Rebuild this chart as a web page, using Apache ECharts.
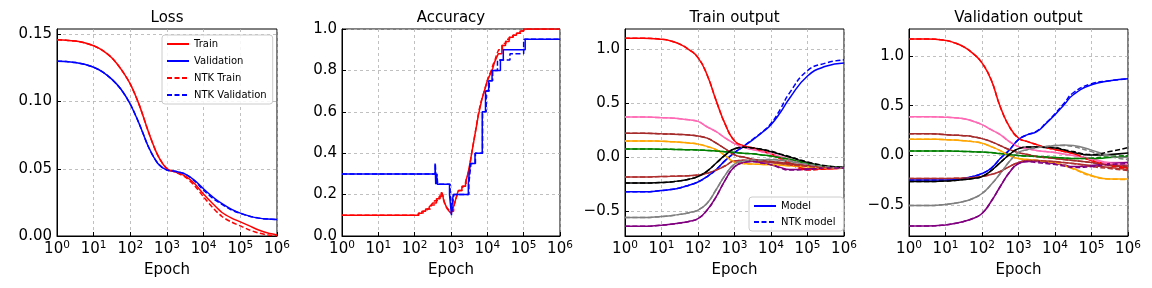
<!DOCTYPE html>
<html><head><meta charset="utf-8">
<script src="https://cdn.jsdelivr.net/npm/echarts@6/dist/echarts.min.js"></script>
<style>html,body{margin:0;padding:0;background:#fff}#c{width:1152px;height:288px}</style>
</head><body><div id="c"></div>
<script>
// ---------- DATA ----------
const LOSS_EPOCHS = [1,1.778,3.162,5.623,10,17.78,31.62,56.23,100,177.8,316.2,562.3,1000,1778,3162,5623,10000,17783,31623,56234,100000,177828,316228,562341,1000000];
const lossTrain = [0.146,0.1457,0.1450,0.1437,0.1415,0.138,0.1325,0.124,0.113,0.097,0.077,0.060,0.050,0.0475,0.0445,0.039,0.031,0.024,0.0175,0.0135,0.0105,0.0075,0.0045,0.0022,0.0008];
const lossVal = [0.130,0.1298,0.1290,0.1277,0.1255,0.122,0.1165,0.109,0.098,0.083,0.066,0.054,0.049,0.048,0.046,0.0415,0.035,0.029,0.024,0.020,0.017,0.0148,0.0133,0.0126,0.0123];
const lossNtkTrain = [0.146,0.1457,0.1450,0.1437,0.1415,0.138,0.1325,0.124,0.113,0.097,0.077,0.060,0.050,0.0472,0.0438,0.0375,0.029,0.021,0.0145,0.0105,0.0075,0.0045,0.0022,0.0008,0.0002];
const lossNtkVal = [0.130,0.1298,0.1290,0.1277,0.1255,0.122,0.1165,0.109,0.098,0.083,0.066,0.054,0.049,0.048,0.046,0.041,0.034,0.028,0.0235,0.0195,0.0168,0.0147,0.0133,0.0126,0.0123];

const ACC_TRAIN_EPOCHS = [1,126,158,200,251,282,316,398,468,537,589,631,708,794,891,1000,1122,1259,1413,1585,1995,2512,2818,3162,3548,3981,4467,5012,5623,6310,7079,7943,8913,10000,11220,12589,14125,15849,17783,19953,25119,31623,39811,50119,63096,79433,100000,1000000];
const accTrain = [0.10,0.11,0.12,0.13,0.14,0.15,0.16,0.18,0.19,0.21,0.20,0.17,0.15,0.13,0.12,0.11,0.13,0.16,0.19,0.22,0.24,0.26,0.29,0.33,0.38,0.43,0.48,0.53,0.58,0.62,0.66,0.69,0.72,0.75,0.77,0.79,0.81,0.84,0.86,0.88,0.92,0.94,0.96,0.97,0.98,0.99,1.00,1.00];
const ACC_NTK_TRAIN_EPOCHS = [1,130,170,220,270,300,350,420,500,560,610,660,740,830,930,1050,1180,1320,1480,1660,2100,2600,2950,3300,3700,4150,4650,5200,5800,6500,7300,8200,9200,10300,11500,12900,14500,16300,18300,20500,26000,32500,41000,51500,65000,82000,100000,1000000];
const accNtkTrain = [0.10,0.11,0.12,0.13,0.14,0.15,0.17,0.18,0.20,0.21,0.19,0.16,0.14,0.13,0.12,0.12,0.14,0.17,0.20,0.22,0.24,0.27,0.30,0.34,0.40,0.45,0.50,0.55,0.60,0.64,0.67,0.70,0.73,0.76,0.78,0.80,0.83,0.85,0.88,0.90,0.93,0.95,0.96,0.97,0.98,0.99,1.00,1.00];
const ACC_VAL_EPOCHS = [1,365,380,400,420,440,910,1030,1070,1150,3000,3160,3400,4580,7250,8900,10900,13500,18200,22900,27500,110000,1000000];
const accVal = [0.30,0.35,0.25,0.30,0.25,0.25,0.20,0.10,0.15,0.20,0.25,0.30,0.35,0.40,0.60,0.70,0.75,0.80,0.80,0.85,0.90,0.95,0.95];
const ACC_NTK_VAL_EPOCHS = [1,370,390,410,430,460,950,1060,1100,1200,3100,3300,3550,4700,7400,9300,11300,14000,19000,24500,42000,100000,1000000];
const accNtkVal = [0.30,0.35,0.26,0.30,0.25,0.25,0.20,0.12,0.15,0.20,0.25,0.30,0.35,0.40,0.60,0.70,0.75,0.80,0.85,0.85,0.88,0.95,0.95];

const OUT_EPOCHS = [1,3.162,10,17.78,31.62,56.23,100,177.8,316.2,562.3,1000,1778,3162,5623,10000,17783,31623,100000,316228,1000000];
const OUT_COLORS = ['#ff0000','#0000ff','#ff69b4','#a52a2a','#ffa500','#008000','#b03030','#000000','#808080','#800080'];
const trainOut = [
  [1.10,1.10,1.09,1.075,1.045,0.995,0.92,0.76,0.52,0.30,0.15,0.105,0.085,0.055,0.03,-0.01,-0.05,-0.11,-0.11,-0.10],
  [-0.32,-0.32,-0.31,-0.30,-0.285,-0.26,-0.23,-0.18,-0.115,-0.03,0.04,0.10,0.16,0.225,0.30,0.41,0.54,0.75,0.84,0.87],
  [0.37,0.37,0.365,0.362,0.355,0.345,0.33,0.28,0.235,0.175,0.125,0.09,0.07,0.05,0.03,0.005,-0.02,-0.07,-0.09,-0.10],
  [0.22,0.22,0.215,0.213,0.21,0.205,0.195,0.175,0.13,0.075,0.02,0.0,-0.02,-0.03,-0.04,-0.05,-0.06,-0.08,-0.095,-0.10],
  [0.15,0.15,0.147,0.143,0.138,0.13,0.12,0.098,0.068,0.012,-0.046,-0.06,-0.065,-0.068,-0.07,-0.075,-0.08,-0.09,-0.10,-0.10],
  [0.074,0.074,0.073,0.072,0.07,0.068,0.066,0.062,0.057,0.05,0.042,0.035,0.03,0.02,0.01,-0.005,-0.02,-0.06,-0.085,-0.10],
  [-0.185,-0.185,-0.18,-0.178,-0.175,-0.172,-0.165,-0.15,-0.12,-0.08,-0.035,-0.03,-0.035,-0.04,-0.05,-0.06,-0.07,-0.085,-0.095,-0.10],
  [-0.24,-0.24,-0.235,-0.23,-0.22,-0.205,-0.18,-0.13,-0.055,0.02,0.077,0.09,0.085,0.07,0.05,0.025,0.0,-0.05,-0.085,-0.095],
  [-0.56,-0.56,-0.55,-0.542,-0.53,-0.515,-0.49,-0.426,-0.30,-0.165,-0.065,-0.035,-0.03,-0.027,-0.025,-0.03,-0.04,-0.07,-0.09,-0.10],
  [-0.64,-0.64,-0.63,-0.622,-0.61,-0.595,-0.57,-0.49,-0.365,-0.21,-0.09,-0.05,-0.04,-0.055,-0.07,-0.095,-0.115,-0.11,-0.10,-0.10]
];
const trainOutNtk = [
  [1.10,1.10,1.09,1.075,1.045,0.995,0.92,0.76,0.52,0.30,0.15,0.105,0.085,0.055,0.03,-0.015,-0.06,-0.12,-0.11,-0.10],
  [-0.32,-0.32,-0.31,-0.30,-0.285,-0.26,-0.23,-0.18,-0.115,-0.03,0.04,0.10,0.165,0.23,0.31,0.44,0.59,0.80,0.87,0.90],
  [0.37,0.37,0.365,0.362,0.355,0.345,0.33,0.28,0.235,0.175,0.125,0.09,0.07,0.05,0.03,0.005,-0.02,-0.07,-0.09,-0.10],
  [0.22,0.22,0.215,0.213,0.21,0.205,0.195,0.175,0.13,0.075,0.02,0.0,-0.02,-0.03,-0.04,-0.05,-0.06,-0.08,-0.095,-0.10],
  [0.15,0.15,0.147,0.143,0.138,0.13,0.12,0.098,0.068,0.012,-0.046,-0.06,-0.065,-0.068,-0.07,-0.075,-0.08,-0.09,-0.10,-0.10],
  [0.074,0.074,0.073,0.072,0.07,0.068,0.066,0.062,0.057,0.05,0.042,0.035,0.03,0.02,0.01,-0.005,-0.02,-0.06,-0.085,-0.10],
  [-0.185,-0.185,-0.18,-0.178,-0.175,-0.172,-0.165,-0.15,-0.12,-0.08,-0.035,-0.03,-0.035,-0.04,-0.05,-0.06,-0.07,-0.085,-0.095,-0.10],
  [-0.24,-0.24,-0.235,-0.23,-0.22,-0.205,-0.18,-0.13,-0.055,0.02,0.077,0.09,0.085,0.072,0.055,0.03,0.005,-0.045,-0.08,-0.095],
  [-0.56,-0.56,-0.55,-0.542,-0.53,-0.515,-0.49,-0.426,-0.30,-0.165,-0.065,-0.035,-0.03,-0.025,-0.02,-0.025,-0.035,-0.065,-0.09,-0.10],
  [-0.64,-0.64,-0.63,-0.622,-0.61,-0.595,-0.57,-0.49,-0.365,-0.21,-0.09,-0.05,-0.04,-0.055,-0.07,-0.10,-0.12,-0.115,-0.10,-0.10]
];
const valOut = [
  [1.17,1.17,1.155,1.13,1.09,1.025,0.93,0.76,0.49,0.29,0.175,0.14,0.11,0.08,0.06,0.04,0.02,-0.05,-0.09,-0.125],
  [-0.245,-0.245,-0.245,-0.24,-0.23,-0.21,-0.18,-0.127,-0.03,0.057,0.16,0.21,0.24,0.32,0.41,0.51,0.61,0.71,0.75,0.77],
  [0.39,0.39,0.385,0.38,0.37,0.345,0.31,0.26,0.21,0.14,0.09,0.07,0.05,0.04,0.03,0.015,0.0,-0.03,-0.07,-0.07],
  [0.22,0.22,0.21,0.205,0.20,0.19,0.17,0.14,0.10,0.06,0.03,0.01,-0.01,-0.02,-0.03,-0.04,-0.05,-0.07,-0.09,-0.10],
  [0.165,0.165,0.16,0.156,0.15,0.14,0.125,0.09,0.05,0.0,-0.03,-0.04,-0.05,-0.06,-0.07,-0.10,-0.13,-0.20,-0.235,-0.235],
  [0.047,0.047,0.046,0.044,0.042,0.039,0.035,0.03,0.02,0.01,0.0,-0.005,-0.01,-0.015,-0.02,-0.025,-0.03,-0.03,-0.02,-0.01],
  [-0.23,-0.23,-0.23,-0.228,-0.225,-0.22,-0.21,-0.19,-0.16,-0.11,-0.07,-0.05,-0.05,-0.055,-0.06,-0.07,-0.08,-0.10,-0.12,-0.14],
  [-0.26,-0.26,-0.255,-0.25,-0.24,-0.23,-0.21,-0.15,-0.07,0.01,0.07,0.085,0.085,0.08,0.075,0.055,0.03,0.005,0.01,0.025],
  [-0.50,-0.50,-0.49,-0.478,-0.46,-0.43,-0.38,-0.29,-0.18,-0.06,0.03,0.06,0.08,0.09,0.10,0.105,0.10,0.055,0.0,-0.02],
  [-0.705,-0.705,-0.695,-0.68,-0.66,-0.63,-0.58,-0.46,-0.31,-0.17,-0.08,-0.06,-0.06,-0.07,-0.08,-0.095,-0.11,-0.10,-0.08,-0.07]
];
const valOutNtk = [
  [1.17,1.17,1.155,1.13,1.09,1.025,0.93,0.76,0.49,0.29,0.175,0.14,0.11,0.08,0.06,0.04,0.02,-0.05,-0.10,-0.13],
  [-0.245,-0.245,-0.245,-0.24,-0.23,-0.21,-0.18,-0.127,-0.03,0.057,0.16,0.21,0.245,0.325,0.42,0.525,0.63,0.72,0.75,0.77],
  [0.39,0.39,0.385,0.38,0.37,0.345,0.31,0.26,0.21,0.14,0.09,0.07,0.05,0.04,0.03,0.015,0.0,-0.04,-0.08,-0.09],
  [0.22,0.22,0.21,0.205,0.20,0.19,0.17,0.14,0.10,0.06,0.03,0.01,-0.01,-0.02,-0.03,-0.04,-0.05,-0.07,-0.10,-0.11],
  [0.165,0.165,0.16,0.156,0.15,0.14,0.125,0.09,0.05,0.0,-0.03,-0.04,-0.05,-0.06,-0.07,-0.10,-0.135,-0.205,-0.235,-0.24],
  [0.047,0.047,0.046,0.044,0.042,0.039,0.035,0.03,0.02,0.01,0.0,-0.005,-0.01,-0.015,-0.02,-0.025,-0.03,-0.025,-0.01,0.0],
  [-0.23,-0.23,-0.23,-0.228,-0.225,-0.22,-0.21,-0.19,-0.16,-0.11,-0.07,-0.05,-0.05,-0.055,-0.06,-0.07,-0.08,-0.11,-0.13,-0.15],
  [-0.26,-0.26,-0.255,-0.25,-0.24,-0.23,-0.21,-0.15,-0.07,0.01,0.07,0.085,0.085,0.083,0.08,0.06,0.04,0.01,0.04,0.08],
  [-0.50,-0.50,-0.49,-0.478,-0.46,-0.43,-0.38,-0.29,-0.18,-0.06,0.03,0.06,0.08,0.09,0.10,0.10,0.09,0.04,-0.01,-0.04],
  [-0.705,-0.705,-0.695,-0.68,-0.66,-0.63,-0.58,-0.46,-0.31,-0.17,-0.08,-0.06,-0.07,-0.08,-0.09,-0.105,-0.12,-0.11,-0.09,-0.08]
];

const Y_TICKS = [
  [0, 0.05, 0.10, 0.15],
  [0, 0.2, 0.4, 0.6, 0.8, 1.0],
  [-0.5, 0, 0.5, 1.0],
  [-0.5, 0, 0.5, 1.0]
];
const Y_RANGES = [[0, 0.154], [0, 1], [-0.73, 1.185], [-0.806, 1.269]];
const Y_DECIMALS = [2, 1, 1, 1];
const TITLES = ['Loss', 'Accuracy', 'Train output', 'Validation output'];
const X_LABEL = 'Epoch';

// ---------- LAYOUT ----------
const GRIDS = [
  {left: 57, top: 29, width: 220, height: 207},
  {left: 342, top: 29, width: 218, height: 207},
  {left: 625, top: 29, width: 219, height: 207},
  {left: 909, top: 29, width: 219, height: 207}
];
const FONT = 'DejaVu Sans';
const DASH = [5, 2.5];

function pairs(xs, ys) { return xs.map((x, i) => [x, ys[i]]); }
function fmtY(v, d) {
  const s = Math.abs(v).toFixed(d);
  return v < -1e-9 ? '\u2212' + s : s;
}

const xAxes = GRIDS.map((g, i) => ({
  type: 'log', logBase: 10, gridIndex: i, min: 1, max: 1000000,
  name: X_LABEL, nameLocation: 'middle', nameGap: 27,
  nameTextStyle: {fontFamily: FONT, fontSize: 15, color: '#000'},
  axisLine: {show: true, onZero: false, lineStyle: {color: '#000', width: 1}},
  axisTick: {show: true, inside: true, length: 4, lineStyle: {color: '#000'}},
  minorTick: {show: false},
  axisLabel: {
    margin: 4, color: '#000', fontFamily: FONT, fontSize: 15,
    formatter: v => '{b|10}{s|' + Math.round(Math.log10(v)) + '}',
    rich: {b: {fontFamily: FONT, fontSize: 15, color: '#000'},
           s: {fontFamily: FONT, fontSize: 10.5, color: '#000', padding: [0, 0, 8, 0]}}
  },
  splitLine: {show: true, lineStyle: {color: '#b0b0b0', type: [3, 3], width: 0.8}}
}));

const yAxes = GRIDS.map((g, i) => ({
  type: 'value', gridIndex: i, min: Y_RANGES[i][0], max: Y_RANGES[i][1],
  axisLine: {show: true, onZero: false, lineStyle: {color: '#000', width: 1}},
  axisTick: {show: true, inside: true, length: 4, lineStyle: {color: '#000'}, customValues: Y_TICKS[i]},
  axisLabel: {margin: 5, color: '#000', fontFamily: FONT, fontSize: 15, customValues: Y_TICKS[i],
              formatter: v => fmtY(v, Y_DECIMALS[i])},
  splitLine: {show: true, lineStyle: {color: '#b0b0b0', type: [3, 3], width: 0.8}}
}));

function line(name, gi, data, color, dashed, opts) {
  return Object.assign({
    name: name, type: 'line', xAxisIndex: gi, yAxisIndex: gi, data: data,
    symbol: 'none', showSymbol: false, smooth: false, animation: false,
    lineStyle: {color: color, width: 1.5, type: dashed ? DASH : 'solid'},
    itemStyle: {color: color}
  }, opts || {});
}

const series = [];
// Loss
series.push(line('Train', 0, pairs(LOSS_EPOCHS, lossTrain), '#ff0000', false, {smooth: 0.3}));
series.push(line('Validation', 0, pairs(LOSS_EPOCHS, lossVal), '#0000ff', false, {smooth: 0.3}));
series.push(line('NTK Train', 0, pairs(LOSS_EPOCHS, lossNtkTrain), '#ff0000', true, {smooth: 0.3}));
series.push(line('NTK Validation', 0, pairs(LOSS_EPOCHS, lossNtkVal), '#0000ff', true, {smooth: 0.3}));
// Accuracy
series.push(line('acc train', 1, pairs(ACC_TRAIN_EPOCHS, accTrain), '#ff0000', false, {step: 'end'}));
series.push(line('acc ntk train', 1, pairs(ACC_NTK_TRAIN_EPOCHS, accNtkTrain), '#ff0000', true, {step: 'end'}));
series.push(line('acc val', 1, pairs(ACC_VAL_EPOCHS, accVal), '#0000ff', false, {step: 'end'}));
series.push(line('acc ntk val', 1, pairs(ACC_NTK_VAL_EPOCHS, accNtkVal), '#0000ff', true, {step: 'end'}));
// Outputs
[[2, trainOut, trainOutNtk, 'tr'], [3, valOut, valOutNtk, 'va']].forEach(([gi, solid, dashed, tag]) => {
  solid.forEach((ys, k) => {
    const nm = (gi === 2 && k === 1) ? 'Model' : tag + ' out ' + k;
    series.push(line(nm, gi, pairs(OUT_EPOCHS, ys), OUT_COLORS[k], false, {smooth: 0.5}));
  });
  dashed.forEach((ys, k) => {
    const nm = (gi === 2 && k === 1) ? 'NTK model' : tag + ' ntk ' + k;
    series.push(line(nm, gi, pairs(OUT_EPOCHS, ys), OUT_COLORS[k], true, {smooth: 0.5}));
  });
});

const legendCommon = {
  orient: 'vertical', itemWidth: 22, itemHeight: 10,
  textStyle: {fontFamily: FONT, fontSize: 10, color: '#000'},
  itemStyle: {opacity: 0},
  backgroundColor: 'rgba(255,255,255,0.85)', borderColor: '#cccccc', borderWidth: 1, borderRadius: 3,
  selectedMode: false
};

const option = {
  animation: false,
  backgroundColor: '#fff',
  grid: GRIDS.map(g => Object.assign({show: true, borderColor: '#000', borderWidth: 1, backgroundColor: 'transparent'}, g)),
  xAxis: xAxes,
  yAxis: yAxes,
  legend: [
    Object.assign({}, legendCommon, {left: 162, top: 35, itemGap: 7, padding: [4, 6, 4, 4],
      data: ['Train', 'Validation', 'NTK Train', 'NTK Validation']}),
    Object.assign({}, legendCommon, {left: 749, top: 197, itemGap: 6, padding: [4, 8, 4, 4],
      data: ['Model', 'NTK model']})
  ],
  graphic: TITLES.map((t, i) => ({
    type: 'text', x: GRIDS[i].left + GRIDS[i].width / 2, y: 18,
    style: {text: t, textAlign: 'center', textVerticalAlign: 'middle', font: '15px "' + FONT + '"', fill: '#000'}
  })),
  series: series
};

const chart = echarts.init(document.getElementById('c'), null, {renderer: 'canvas'});
chart.setOption(option);
</script>
</body></html>
